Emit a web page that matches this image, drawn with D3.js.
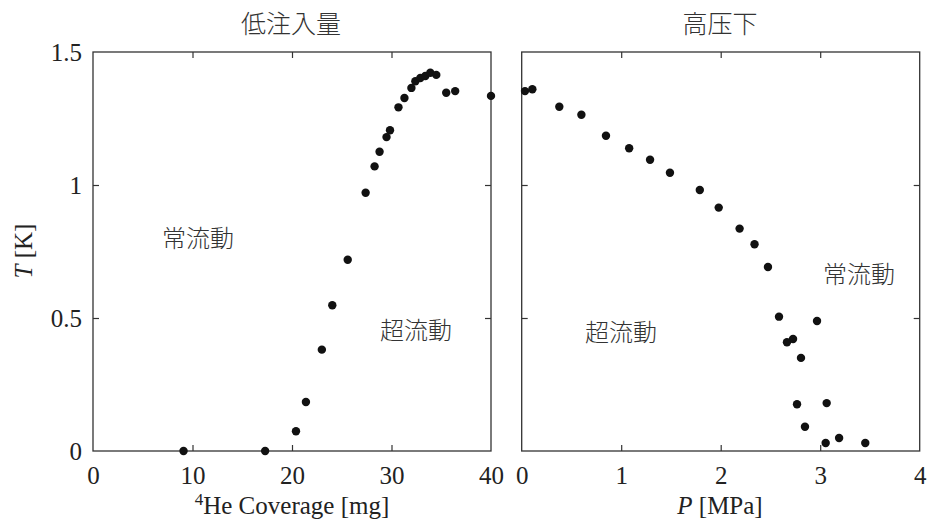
<!DOCTYPE html>
<html>
<head>
<meta charset="utf-8">
<script src="https://cdn.jsdelivr.net/npm/d3@7"></script>
<style>
  body { margin: 0; background: #fff; }
</style>
</head>
<body>
<script>
// left panel: T vs 4He coverage
var coverage = [9.1, 17.3, 20.4, 21.4, 23.0, 24.05, 25.6, 27.4, 28.3, 28.8, 29.5, 29.85,
                30.7, 31.3, 32.0, 32.4, 32.9, 33.4, 33.9, 34.5, 35.5, 36.4, 40.0];
var tCoverage = [0.0, 0.0, 0.074, 0.184, 0.381, 0.548, 0.719, 0.971, 1.07, 1.125, 1.18, 1.206,
                 1.292, 1.327, 1.365, 1.39, 1.402, 1.41, 1.422, 1.414, 1.347, 1.353, 1.335];
// right panel: T vs pressure
var pressure = [0.033, 0.107, 0.378, 0.60, 0.847, 1.08, 1.29, 1.49, 1.79, 1.98, 2.19, 2.34,
                2.475, 2.586, 2.968, 2.727, 2.666, 2.807, 2.767, 3.065, 2.847, 3.055, 3.19, 3.453];
var tPressure = [1.353, 1.36, 1.294, 1.264, 1.185, 1.138, 1.095, 1.046, 0.981, 0.915, 0.836, 0.777,
                 0.692, 0.505, 0.489, 0.421, 0.409, 0.350, 0.176, 0.180, 0.091, 0.030, 0.049, 0.030];

var coverageTicks = [0, 10, 20, 30, 40];
var pressureTicks = [0, 1, 2, 3, 4];
var tTicks = [0, 0.5, 1, 1.5];

var serif = "'Liberation Serif', 'Times New Roman', Times, 'DejaVu Serif', serif";
var cjk = "'Noto Sans CJK JP', 'Noto Sans CJK SC', sans-serif";

var width = 927, height = 523;
var svg = d3.select("body").append("svg")
    .attr("width", width)
    .attr("height", height);

var y = d3.scaleLinear().domain([0, 1.5]).range([451, 52]);
var xL = d3.scaleLinear().domain([0, 40]).range([93, 491]);
var xR = d3.scaleLinear().domain([0, 4]).range([521.7, 919.7]);

function numText(sel) {
  sel.style("font-family", serif).style("font-size", "25px").attr("fill", "#222");
}

function panel(x, xs, ys, xticks, showY) {
  var g = svg.append("g");
  var inner = xticks.slice(1, -1);
  var innerY = tTicks.slice(1, -1);

  // inward ticks on all four sides
  g.append("g").attr("transform", "translate(0," + y(0) + ")")
    .call(d3.axisBottom(x).tickValues(inner).tickSize(-6).tickFormat(""));
  g.append("g").attr("transform", "translate(0," + y(1.5) + ")")
    .call(d3.axisTop(x).tickValues(inner).tickSize(-6).tickFormat(""));
  g.append("g").attr("transform", "translate(" + x.range()[0] + ",0)")
    .call(d3.axisLeft(y).tickValues(innerY).tickSize(-6).tickFormat(""));
  g.append("g").attr("transform", "translate(" + x.range()[1] + ",0)")
    .call(d3.axisRight(y).tickValues(innerY).tickSize(-6).tickFormat(""));
  g.selectAll(".domain").remove();
  g.selectAll(".tick line").attr("stroke", "#333").attr("stroke-width", 1.2);

  // tick labels
  var bx = g.append("g").attr("transform", "translate(0," + y(0) + ")")
    .call(d3.axisBottom(x).tickValues(xticks).tickSize(0).tickFormat(d3.format("d")));
  bx.select(".domain").remove();
  bx.selectAll("text").attr("dy", null).attr("y", 33).call(numText);

  if (showY) {
    var ly = g.append("g").attr("transform", "translate(" + x.range()[0] + ",0)")
      .call(d3.axisLeft(y).tickValues(tTicks).tickSize(0).tickFormat(d3.format("")));
    ly.select(".domain").remove();
    ly.selectAll("text").attr("x", -11).call(numText);
  }

  // frame
  g.append("rect")
    .attr("x", x.range()[0]).attr("y", y(1.5))
    .attr("width", x.range()[1] - x.range()[0])
    .attr("height", y(0) - y(1.5))
    .attr("fill", "none").attr("stroke", "#333").attr("stroke-width", 1.3);

  g.selectAll(".dot")
    .data(xs)
    .enter()
    .append("circle")
    .attr("class", "dot")
    .attr("cx", function(d) { return x(d); })
    .attr("cy", function(d, i) { return y(ys[i]); })
    .attr("r", 4.2)
    .attr("fill", "#111");
  return g;
}

panel(xL, coverage, tCoverage, coverageTicks, true);
panel(xR, pressure, tPressure, pressureTicks, false);

// titles
var titles = [{t: "低注入量", x: 291}, {t: "高压下", x: 720}];
svg.selectAll(".title").data(titles).enter()
  .append("text").attr("class", "title")
  .attr("x", function(d) { return d.x; })
  .attr("y", 33)
  .attr("text-anchor", "middle")
  .style("font-family", cjk).style("font-size", "25px").style("font-weight", 300)
  .attr("fill", "#333")
  .text(function(d) { return d.t; });

// region labels
var regions = [
  {t: "常流動", x: 198, y: 247},
  {t: "超流動", x: 416, y: 339},
  {t: "超流動", x: 621, y: 341},
  {t: "常流動", x: 859, y: 283}
];
svg.selectAll(".region").data(regions).enter()
  .append("text").attr("class", "region")
  .attr("x", function(d) { return d.x; })
  .attr("y", function(d) { return d.y; })
  .attr("text-anchor", "middle")
  .style("font-family", cjk).style("font-size", "24px").style("font-weight", 300)
  .attr("fill", "#333")
  .text(function(d) { return d.t; });

// axis titles
var xt = svg.append("text").attr("x", 292).attr("y", 514)
  .attr("text-anchor", "middle").call(numText);
xt.append("tspan").attr("baseline-shift", "super").style("font-size", "17px").text("4");
xt.append("tspan").text("He Coverage [mg]");

var pt = svg.append("text").attr("x", 720).attr("y", 514)
  .attr("text-anchor", "middle").call(numText);
pt.append("tspan").style("font-style", "italic").text("P");
pt.append("tspan").text(" [MPa]");

var tt = svg.append("text")
  .attr("transform", "translate(32,251) rotate(-90)")
  .attr("text-anchor", "middle").call(numText);
tt.append("tspan").style("font-style", "italic").text("T");
tt.append("tspan").text(" [K]");
</script>
</body>
</html>
